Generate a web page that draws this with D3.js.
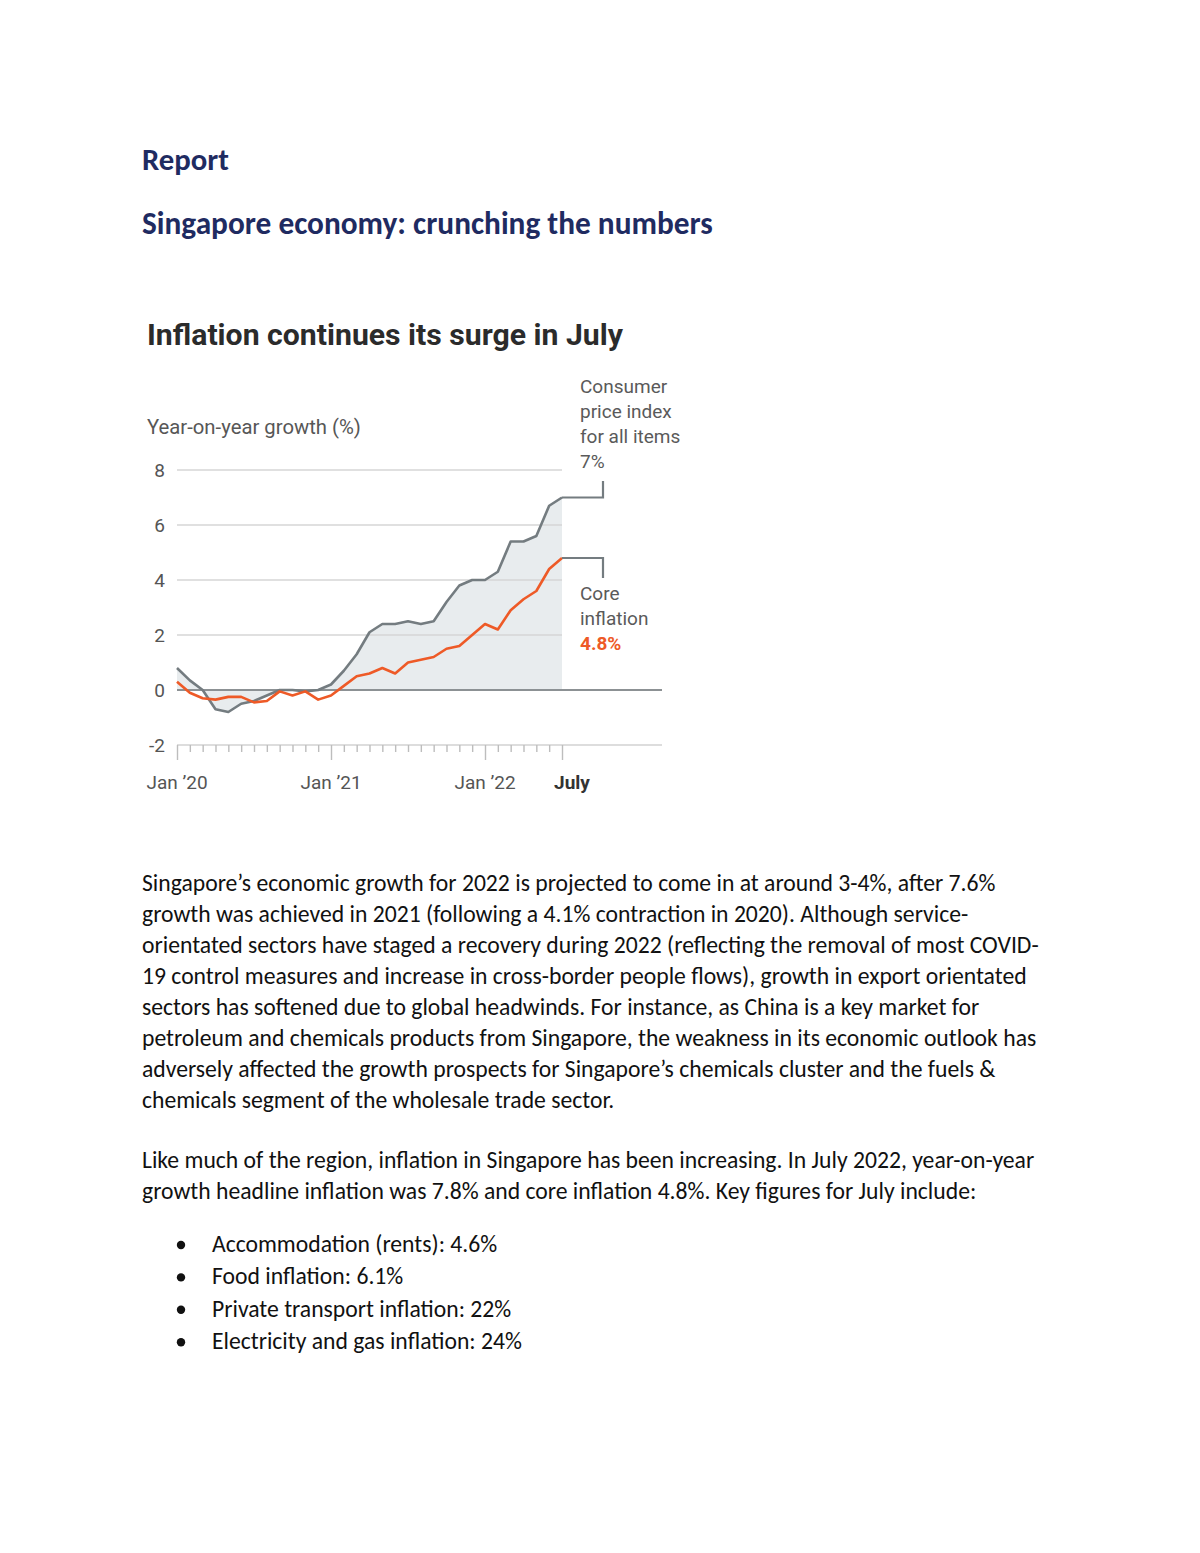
<!DOCTYPE html>
<html><head><meta charset="utf-8">
<script src="https://cdn.jsdelivr.net/npm/d3@7"></script>
<style>body{margin:0;background:#fff}svg{display:block}</style>
</head><body>
<svg id="c" width="1200" height="1553"></svg>
<script>
// ---------- data ----------
const months = ["2020-01","2020-02","2020-03","2020-04","2020-05","2020-06","2020-07","2020-08","2020-09","2020-10","2020-11","2020-12",
                "2021-01","2021-02","2021-03","2021-04","2021-05","2021-06","2021-07","2021-08","2021-09","2021-10","2021-11","2021-12",
                "2022-01","2022-02","2022-03","2022-04","2022-05","2022-06","2022-07"];
const cpi  = [0.8,0.35,0.0,-0.7,-0.8,-0.5,-0.4,-0.2,0.0,0.0,-0.05,0.0,
              0.2,0.7,1.3,2.1,2.4,2.4,2.5,2.4,2.5,3.2,3.8,4.0,
              4.0,4.3,5.4,5.4,5.6,6.7,7.0];
const core = [0.3,-0.1,-0.3,-0.35,-0.25,-0.25,-0.45,-0.4,-0.05,-0.2,-0.05,-0.35,
              -0.2,0.15,0.5,0.6,0.8,0.6,1.0,1.1,1.2,1.5,1.6,2.0,
              2.4,2.2,2.9,3.3,3.6,4.4,4.8];
const yTicks = [-2,0,2,4,6,8];
const xLabelIdx = [0,12,24,30];
const xLabels = ["Jan ’20","Jan ’21","Jan ’22","July"];
const cpiLabel = ["Consumer","price index","for all items","7%"];
const coreLabel = ["Core","inflation","4.8%"];

const para1 = [
 "Singapore’s economic growth for 2022 is projected to come in at around 3-4%, after 7.6%",
 "growth was achieved in 2021 (following a 4.1% contraction in 2020). Although service-",
 "orientated sectors have staged a recovery during 2022 (reflecting the removal of most COVID-",
 "19 control measures and increase in cross-border people flows), growth in export orientated",
 "sectors has softened due to global headwinds. For instance, as China is a key market for",
 "petroleum and chemicals products from Singapore, the weakness in its economic outlook has",
 "adversely affected the growth prospects for Singapore’s chemicals cluster and the fuels &",
 "chemicals segment of the wholesale trade sector."
];
const para2 = [
 "Like much of the region, inflation in Singapore has been increasing. In July 2022, year-on-year",
 "growth headline inflation was 7.8% and core inflation 4.8%. Key figures for July include:"
];
const bullets = ["Accommodation (rents): 4.6%","Food inflation: 6.1%","Private transport inflation: 22%","Electricity and gas inflation: 24%"];

// ---------- drawing ----------
const svg = d3.select("#c");
function fit(sel, w){
  const n = sel.node(); let fs = parseFloat(sel.attr("font-size"));
  const L = n.getComputedTextLength(); if(L>0){ sel.attr("font-size", (fs*w/L).toFixed(2)); }
  return sel;
}

const navy = "#1f2b61";
const bodyFont = "Carlito, Calibri, Lato, 'Open Sans', sans-serif";
svg.append("text").attr("x",142).attr("y",170).attr("font-family",bodyFont).attr("font-size",28)
  .attr("font-weight",600).attr("fill",navy).text("Report").call(s=>fit(s,87));
svg.append("text").attr("x",142).attr("y",234).attr("font-family",bodyFont).attr("font-size",28)
  .attr("font-weight",600).attr("fill",navy).text("Singapore economy: crunching the numbers").call(s=>fit(s,571));

// chart
const chartFont = "Roboto, 'Open Sans', sans-serif";
const x = d3.scaleLinear().domain([0, months.length-1]).range([177, 562]);
const y = d3.scaleLinear().domain([-2, 8]).range([745, 470]);
const g = svg.append("g");

g.append("text").attr("x",147).attr("y",345).attr("font-family",chartFont).attr("font-size",28)
  .attr("font-weight",700).attr("fill","#2b2b2b").text("Inflation continues its surge in July").call(s=>fit(s,476));
g.append("text").attr("x",147).attr("y",434).attr("font-family",chartFont).attr("font-size",19)
  .attr("fill","#575757").text("Year-on-year growth (%)").call(s=>fit(s,214));

// shaded area
const area = d3.area().x((d,i)=>x(i)).y0(y(0)).y1(d=>y(d));
g.append("path").datum(cpi).attr("d",area).attr("fill","#e8ecee");

// gridlines
g.selectAll(".grid").data(yTicks.filter(t=>t>0)).join("line")
  .attr("x1",x(0)).attr("x2",x(months.length-1)).attr("y1",d=>y(d)).attr("y2",d=>y(d))
  .attr("stroke","#d6d6d6").attr("stroke-width",1.6);
g.append("line").attr("x1",x(0)).attr("x2",662).attr("y1",y(-2)).attr("y2",y(-2))
  .attr("stroke","#d2d2d2").attr("stroke-width",1.6);

// y tick labels
g.selectAll(".yl").data(yTicks).join("text")
  .attr("x",165).attr("y",d=>y(d)+7).attr("text-anchor","end")
  .attr("font-family",chartFont).attr("font-size",19).attr("fill","#555").text(d=>d);

// x axis ticks
const axis = d3.axisBottom(x).tickValues(d3.range(months.length)).tickSize(7).tickFormat("");
const ax = g.append("g").attr("transform",`translate(0,${y(-2)})`).call(axis);
ax.select(".domain").remove();
ax.selectAll(".tick line").attr("stroke","#bdbdbd").attr("stroke-width",1.4)
  .attr("y2",d=>xLabelIdx.includes(d)?15:7);
g.selectAll(".xl").data(xLabelIdx).join("text")
  .attr("x",(d,i)=> i===3 ? x(d)+10 : x(d)).attr("y",789).attr("text-anchor","middle")
  .attr("font-family",chartFont).attr("font-size",19)
  .attr("font-weight",(d,i)=>i===3?700:400).attr("fill",(d,i)=>i===3?"#333":"#555")
  .text((d,i)=>xLabels[i]);

// zero line
g.append("line").attr("x1",x(0)).attr("x2",662).attr("y1",y(0)).attr("y2",y(0))
  .attr("stroke","#8c9194").attr("stroke-width",2.2);

// lines
const line = d3.line().x((d,i)=>x(i)).y(d=>y(d)).curve(d3.curveLinear);
g.append("path").datum(cpi).attr("d",line).attr("fill","none").attr("stroke","#747c80")
  .attr("stroke-width",2.6).attr("stroke-linejoin","round");
g.append("path").datum(core).attr("d",line).attr("fill","none").attr("stroke","#ee5a27")
  .attr("stroke-width",2.6).attr("stroke-linejoin","round");

// connectors
const last = months.length-1;
g.append("path").attr("d",`M${x(last)},${y(cpi[last])}H603V481`).attr("fill","none")
  .attr("stroke","#747c80").attr("stroke-width",2.2);
g.append("path").attr("d",`M${x(last)},${y(core[last])}H603V578`).attr("fill","none")
  .attr("stroke","#747c80").attr("stroke-width",2.2);

// annotation labels
g.selectAll(".cl").data(cpiLabel).join("text")
  .attr("x",580).attr("y",(d,i)=>393+i*25).attr("font-family",chartFont).attr("font-size",19)
  .attr("fill","#5a5a5a").text(d=>d);
g.selectAll(".kl").data(coreLabel).join("text")
  .attr("x",580).attr("y",(d,i)=>600+i*25).attr("font-family",chartFont).attr("font-size",19)
  .attr("font-weight",(d,i)=>i===2?700:400)
  .attr("fill",(d,i)=>i===2?"#ee5a27":"#5a5a5a").text(d=>d);

// body text
const t0 = svg.append("text").attr("x",142).attr("y",891).attr("font-family",bodyFont)
  .attr("font-size",22).attr("fill","#111").text(para1[0]);
fit(t0, 854);
const bodySize = t0.attr("font-size");
t0.remove();
svg.selectAll(".p1").data(para1).join("text").attr("x",142).attr("y",(d,i)=>891+i*31)
  .attr("font-family",bodyFont).attr("font-size",bodySize).attr("fill","#111").text(d=>d);
svg.selectAll(".p2").data(para2).join("text").attr("x",142).attr("y",(d,i)=>1168+i*31)
  .attr("font-family",bodyFont).attr("font-size",bodySize).attr("fill","#111").text(d=>d);
const bl = svg.selectAll(".b").data(bullets).join("g")
  .attr("transform",(d,i)=>`translate(0,${1252+i*32.4})`);
bl.append("circle").attr("cx",181).attr("cy",-7).attr("r",4.2).attr("fill","#111");
bl.append("text").attr("x",212).attr("y",0).attr("font-family",bodyFont).attr("font-size",bodySize)
  .attr("fill","#111").text(d=>d);
</script>
</body></html>
